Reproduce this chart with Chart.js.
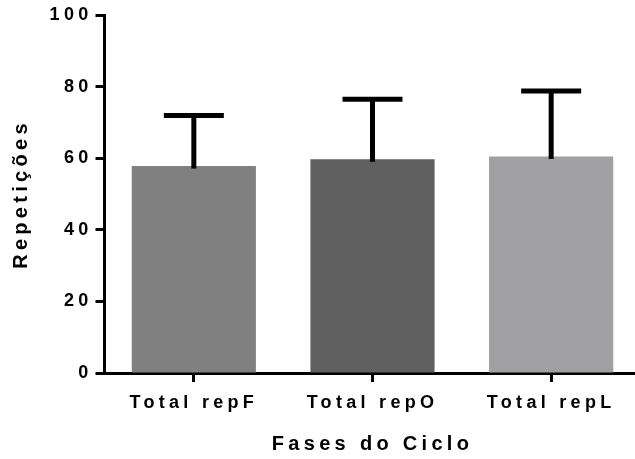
<!DOCTYPE html>
<html>
<head>
<meta charset="utf-8">
<script src="https://cdn.jsdelivr.net/npm/chart.js@4/dist/chart.umd.min.js"></script>
<style>
  html, body { margin: 0; padding: 0; background: #ffffff; }
  canvas { display: block; }
</style>
</head>
<body>
<canvas id="chart" width="635" height="459"></canvas>
<script>
// Phases of the cycle and their mean repetitions with standard deviation
const categories = ['Total repF', 'Total repO', 'Total repL'];
const means = [57.8, 59.7, 60.5];
const sds = [14.1, 16.8, 18.3];
const barColors = ['#808080', '#606060', '#a0a0a4'];
const yTicks = [0, 20, 40, 60, 80, 100];

const FONT = "'Liberation Sans', Arial, sans-serif";
const SPACING = '4.3px';

// Wide letter spacing for every text drawn on the canvas
const spacingPlugin = {
  id: 'spacing',
  beforeUpdate(chart) { chart.ctx.letterSpacing = SPACING; },
  beforeDraw(chart) { chart.ctx.letterSpacing = SPACING; }
};

// The category axis runs on past the right edge of the canvas
const xExtend = {
  id: 'xExtend',
  afterLayout(chart) {
    const x = chart.scales.x;
    x.right = x.left + 536;
    x.width = x.right - x.left;
    x.configure();
  }
};

// Upper error bar (mean + SD) with a flat cap
const errorBars = {
  id: 'errorBars',
  afterDatasetsDraw(chart) {
    const ctx = chart.ctx;
    const y = chart.scales.y;
    const meta = chart.getDatasetMeta(0);
    ctx.save();
    ctx.strokeStyle = '#000000';
    ctx.lineWidth = 5;
    meta.data.forEach((bar, i) => {
      const yMean = y.getPixelForValue(means[i]);
      const yTop = y.getPixelForValue(means[i] + sds[i]);
      ctx.beginPath();
      ctx.moveTo(bar.x, yMean + 2.5);
      ctx.lineTo(bar.x, yTop);
      ctx.stroke();
      ctx.beginPath();
      ctx.moveTo(bar.x - 30, yTop);
      ctx.lineTo(bar.x + 30, yTop);
      ctx.stroke();
    });
    ctx.restore();
  }
};

new Chart(document.getElementById('chart'), {
  type: 'bar',
  data: {
    labels: categories,
    datasets: [{
      data: means,
      backgroundColor: barColors,
      borderWidth: 0,
      barPercentage: 0.695,
      categoryPercentage: 1.0
    }]
  },
  options: {
    responsive: false,
    animation: false,
    devicePixelRatio: 1,
    layout: { padding: { top: 15, right: 0, left: 0, bottom: 0 } },
    plugins: { legend: { display: false }, tooltip: { enabled: false } },
    scales: {
      x: {
        z: 1,
        offset: true,
        afterFit(scale) { scale.height = 86; },
        border: { display: true, color: '#000000', width: 3 },
        grid: { display: true, offset: false, drawOnChartArea: false, drawTicks: true, tickLength: 9, tickWidth: 3, tickColor: '#000000', color: '#000000' },
        ticks: { color: '#000000', padding: 10, maxRotation: 0, font: { family: FONT, size: 18, weight: 'bold' } },
        title: { display: true, text: 'Fases do Ciclo', color: '#000000', padding: { top: 0, bottom: 2.5 }, font: { family: FONT, size: 20, weight: 'bold' } }
      },
      y: {
        z: 1,
        min: 0,
        max: 100,
        afterFit(scale) { scale.width = 104.5; },
        afterBuildTicks(scale) { scale.ticks = yTicks.map(v => ({ value: v })); },
        border: { display: true, color: '#000000', width: 3 },
        grid: { display: true, drawOnChartArea: false, drawTicks: true, tickLength: 9, tickWidth: 3, tickColor: '#000000', color: '#000000' },
        ticks: { color: '#000000', padding: 3, font: { family: FONT, size: 18, weight: 'bold' } },
        title: { display: true, text: 'Repetições', color: '#000000', padding: { top: 9, bottom: 0 }, font: { family: FONT, size: 20, weight: 'bold' } }
      }
    }
  },
  plugins: [spacingPlugin, xExtend, errorBars]
});
</script>
</body>
</html>
